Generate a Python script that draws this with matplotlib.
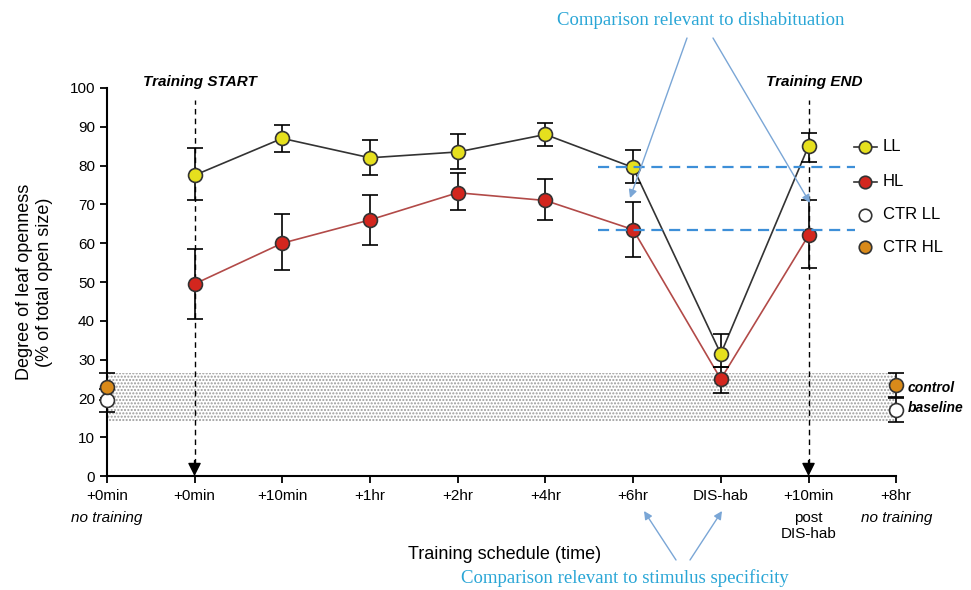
import numpy as np
import matplotlib.pyplot as plt

plt.rcParams['font.family'] = ['Liberation Sans', 'DejaVu Sans']

# x categories (positions 0..9)
tick_main = ["+0min", "+0min", "+10min", "+1hr", "+2hr", "+4hr", "+6hr", "DIS-hab", "+10min", "+8hr"]

# training series (positions 1..8)
ll_mean = [77.5, 87, 82, 83.5, 88, 79.5, 31.5, 85]
ll_up = [84.5, 90.5, 86.5, 88, 91, 84, 36.5, 88.5]
ll_lo = [71, 83.5, 77.5, 79, 85, 75.5, 28, 81]

hl_mean = [49.5, 60, 66, 73, 71, 63.5, 25, 62]
hl_up = [58.5, 67.5, 72.5, 78, 76.5, 70.5, 28, 71]
hl_lo = [40.5, 53, 59.5, 68.5, 66, 56.5, 21.5, 53.5]

# controls (positions 0 and 9)
ctr_hl_mean = [23, 23.5]
ctr_hl_err = [3.5, 3]
ctr_ll_mean = [19.5, 17]
ctr_ll_err = [3, 3]

band = (14, 26.5)
dish_levels = [79.5, 63.5]

LL_C = "#e6e01e"
HL_C = "#d3261e"
CHL_C = "#d98a1a"
BLUE = "#2aa6d6"
ARROW = "#7aa6d6"

fig = plt.figure(figsize=(9.71, 5.9), dpi=100)
ax = fig.add_axes([0.110, 0.193, 0.813, 0.658])

xs = np.arange(1, 9)
x_all = np.arange(len(tick_main))

# baseline band
ax.fill_between([0, 9], band[0], band[1], facecolor="white", edgecolor="#9a9a9a",
                hatch=".....", linewidth=0, zorder=0)

# lines
ax.plot(xs, ll_mean, color="#333333", lw=1.2, zorder=2)
ax.plot(xs, hl_mean, color="#b24a48", lw=1.2, zorder=2)

# error bars
for m, up, lo in [(ll_mean, ll_up, ll_lo), (hl_mean, hl_up, hl_lo)]:
    m = np.array(m)
    ax.errorbar(xs, m, yerr=[m - np.array(lo), np.array(up) - m], fmt="none",
                ecolor="black", elinewidth=1.2, capsize=6, capthick=1.2, zorder=3)
ctr_x = [0, 9]
ax.errorbar(ctr_x, ctr_hl_mean, yerr=ctr_hl_err, fmt="none", ecolor="black",
            elinewidth=1.2, capsize=6, capthick=1.2, zorder=3, clip_on=False)
ax.errorbar(ctr_x, ctr_ll_mean, yerr=ctr_ll_err, fmt="none", ecolor="black",
            elinewidth=1.2, capsize=6, capthick=1.2, zorder=3, clip_on=False)

# markers
ax.plot(xs, ll_mean, "o", ms=10, mfc=LL_C, mec="#333333", mew=1.2, zorder=5)
ax.plot(xs, hl_mean, "o", ms=10, mfc=HL_C, mec="#333333", mew=1.2, zorder=5)
ax.plot(ctr_x, ctr_ll_mean, "o", ms=10, mfc="white", mec="#333333", mew=1.2, zorder=5, clip_on=False)
ax.plot(ctr_x, ctr_hl_mean, "o", ms=10, mfc=CHL_C, mec="#333333", mew=1.2, zorder=5, clip_on=False)

# dishabituation comparison lines
for lev in dish_levels:
    ax.plot([5.6, 8.53], [lev, lev], color="#3d8fd8", lw=1.6, ls=(0, (5, 3)), zorder=6, clip_on=False)

# training start/end markers
for xv in (1, 8):
    ax.plot([xv, xv], [3, 97], color="black", lw=1.0, ls=(0, (4, 3)), zorder=1, clip_on=False)
    ax.annotate("", xy=(xv, 0), xytext=(xv, 4),
                arrowprops=dict(arrowstyle="-|>", color="black", lw=1.0,
                                mutation_scale=20, shrinkA=0, shrinkB=0), zorder=1)
ax.text(1.06, 101.5, "Training START", fontsize=11, fontweight="bold", style="italic",
        ha="center", va="center")
ax.text(8.07, 101.5, "Training END", fontsize=11, fontweight="bold", style="italic",
        ha="center", va="center")

# axes
ax.set_xlim(0, 9)
ax.set_ylim(0, 100)
ax.set_yticks(np.arange(0, 101, 10))
ax.set_xticks(x_all)
ax.set_xticklabels(tick_main)
ax.tick_params(axis="both", labelsize=11, width=1.3, length=5, direction="out")
ax.tick_params(axis="x", pad=4)
for s in ("top", "right"):
    ax.spines[s].set_visible(False)
for s in ("left", "bottom"):
    ax.spines[s].set_linewidth(1.5)

# second-line tick labels
ax.text(0, -8.9, "no training", style="italic", fontsize=11, ha="center", va="top")
ax.text(9, -8.9, "no training", style="italic", fontsize=11, ha="center", va="top")
ax.text(8, -8.9, "post\nDIS-hab", fontsize=11, ha="center", va="top", linespacing=1.2)

ax.set_ylabel("Degree of leaf openness\n(% of total open size)", fontsize=13, labelpad=12)
ax.text(4.54, -20.3, "Training schedule (time)", fontsize=13, ha="center", va="center")

# control baseline label
ax.text(9.13, 22.7, "control", fontsize=10, fontweight="bold", style="italic", ha="left", va="center")
ax.text(9.13, 17.5, "baseline", fontsize=10, fontweight="bold", style="italic", ha="left", va="center")

# legend (custom, right side)
leg = [("LL", LL_C, True), ("HL", HL_C, True), ("CTR LL", "white", False), ("CTR HL", CHL_C, False)]
leg_y = [84.8, 75.8, 67.3, 59]
for (lab, c, line), yv in zip(leg, leg_y):
    if line:
        ax.plot([8.52, 8.78], [yv, yv], color="#333333", lw=1.2, clip_on=False, zorder=6)
    ax.plot(8.64, yv, "o", ms=9, mfc=c, mec="#333333", mew=1.2, clip_on=False, zorder=7)
    ax.text(8.85, yv, lab, fontsize=12, ha="left", va="center")

# comparison annotations
fig.text(0.722, 0.965, "Comparison relevant to dishabituation", color=BLUE,
         fontsize=13.5, family="Liberation Serif", ha="center", va="center")
for (x0, y0), (x1, y1) in [((687, 38), (630, 198)), ((713, 38), (810, 203))]:
    fig.add_artist(plt.Annotation("", xy=(x1 / 971, 1 - y1 / 590), xytext=(x0 / 971, 1 - y0 / 590),
                                  xycoords="figure fraction", textcoords="figure fraction",
                                  arrowprops=dict(arrowstyle="-|>", color=ARROW, lw=1.0,
                                                  mutation_scale=12, shrinkA=0, shrinkB=0)))
fig.text(0.644, 0.020, "Comparison relevant to stimulus specificity", color=BLUE,
         fontsize=13.5, family="Liberation Serif", ha="center", va="center")
for (x0, y0), (x1, y1) in [((676, 560), (644, 511)), ((690, 560), (722, 511))]:
    fig.add_artist(plt.Annotation("", xy=(x1 / 971, 1 - y1 / 590), xytext=(x0 / 971, 1 - y0 / 590),
                                  xycoords="figure fraction", textcoords="figure fraction",
                                  arrowprops=dict(arrowstyle="-|>", color=ARROW, lw=1.0,
                                                  mutation_scale=12, shrinkA=0, shrinkB=0)))

fig.savefig("out.png", dpi=100)
